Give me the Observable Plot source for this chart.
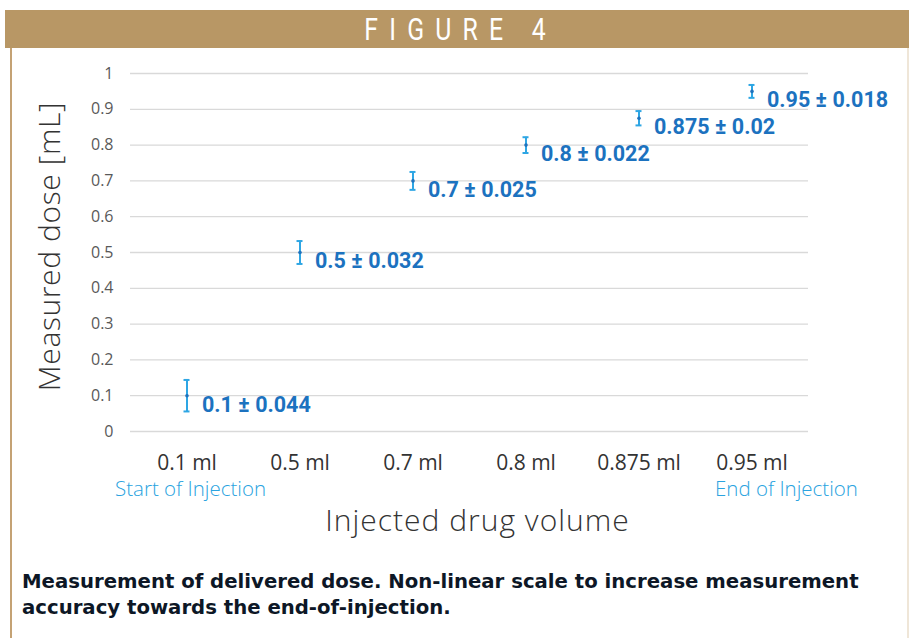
<!DOCTYPE html>
<html>
<head>
<meta charset="utf-8">
<script src="https://cdn.jsdelivr.net/npm/d3@7"></script>
<script src="https://cdn.jsdelivr.net/npm/@observablehq/plot@0.6"></script>
<style>
  html, body { margin: 0; padding: 0; background: #fff; width: 909px; height: 638px; overflow: hidden; }
  #header { position: absolute; left: 5px; top: 10px; width: 904px; height: 38px; background: #b89765; }
  #header span { position: absolute; left: 0; width: 904px; top: 0; text-align: center; line-height: 40px;
    color: #fff; font-family: "Roboto", "Open Sans", sans-serif; font-size: 31px; letter-spacing: 14px;
    transform: scaleX(0.8); transform-origin: 470px 0; }
  #lborder { position: absolute; left: 10px; top: 48px; width: 2px; height: 590px; background: #c4a274; }
  #rborder { position: absolute; left: 907px; top: 48px; width: 2px; height: 590px; background: #efe6d8; }
  #chart { position: absolute; left: 0; top: 50px; }
  #caption { position: absolute; left: 22px; top: 569px; width: 880px; font-family: "DejaVu Sans", "Lato", sans-serif;
    font-weight: bold; font-size: 19.7px; line-height: 26px; color: #0d1726; white-space: nowrap; }
</style>
</head>
<body>
<div id="header"><span>FIGURE 4</span></div>
<div id="lborder"></div>
<div id="rborder"></div>
<div id="chart"></div>
<div id="caption">Measurement of delivered dose. Non-linear scale to increase measurement<br>accuracy towards the end-of-injection.</div>
<script>
const categories = ["0.1 ml", "0.5 ml", "0.7 ml", "0.8 ml", "0.875 ml", "0.95 ml"];
const measured = [0.1, 0.5, 0.7, 0.8, 0.875, 0.95];
const errors = [0.044, 0.032, 0.025, 0.022, 0.02, 0.018];
const valueLabels = ["0.1 ± 0.044", "0.5 ± 0.032", "0.7 ± 0.025", "0.8 ± 0.022", "0.875 ± 0.02", "0.95 ± 0.018"];
const yTicks = [0, 0.1, 0.2, 0.3, 0.4, 0.5, 0.6, 0.7, 0.8, 0.9, 1];
const xTitle = "Injected drug volume";
const yTitle = "Measured dose [mL]";
const startNote = "Start of Injection";
const endNote = "End of Injection";

const data = categories.map((c, i) => ({
  cat: c, v: measured[i], lo: measured[i] - errors[i], hi: measured[i] + errors[i], label: valueLabels[i]
}));

const labelBlue = "#1c72bf";
const barBlue = "#2ea6e4";
const titleFont = "'Open Sans', 'Lato', sans-serif";

const chart = Plot.plot({
  width: 909,
  height: 500,
  marginLeft: 130,
  marginRight: 101,
  marginTop: 23,
  marginBottom: 119,
  style: { fontFamily: "'Open Sans', 'Liberation Sans', sans-serif", background: "transparent", overflow: "visible" },
  x: { domain: categories, padding: 0, label: null },
  y: { domain: [0, 1], label: null },
  marks: [
    Plot.gridY(yTicks, { stroke: "#d9d9d9", strokeOpacity: 1, strokeWidth: 1.3 }),
    Plot.axisY(yTicks, { tickSize: 0, tickPadding: 17, fontSize: 16, color: "#595959", label: null,
      tickFormat: d => String(+d.toFixed(1)) }),
    Plot.axisX({ tickSize: 0, tickPadding: 24, fontSize: 21, color: "#333", label: null }),
    Plot.text([startNote], { x: () => categories[0], y: () => 0, dx: -72, dy: 58, text: d => d,
      textAnchor: "start", fill: "#2aa3e0", fontSize: 20.5, fontFamily: titleFont, fontWeight: 300 }),
    Plot.text([endNote], { x: () => categories[5], y: () => 0, dx: -37, dy: 58, text: d => d,
      textAnchor: "start", fill: "#2aa3e0", fontSize: 20.5, fontFamily: titleFont, fontWeight: 300 }),
    Plot.text([xTitle], { frameAnchor: "bottom", text: d => d, dx: 8, dy: 99, fontSize: 30,
      fill: "#333", fontFamily: titleFont, fontWeight: 300, className: "xtitle" }),
    Plot.text([yTitle], { frameAnchor: "left", textAnchor: "middle", text: d => d, dx: -80, dy: -6, rotate: -90, fontSize: 30,
      fill: "#333", fontFamily: titleFont, fontWeight: 300, className: "ytitle" }),
    Plot.ruleX(data, { x: "cat", y1: "lo", y2: "hi", stroke: barBlue, strokeWidth: 2 }),
    Plot.tickY(data, { x: "cat", y: "lo", stroke: barBlue, strokeWidth: 2, insetLeft: 53.5, insetRight: 53.5 }),
    Plot.tickY(data, { x: "cat", y: "hi", stroke: barBlue, strokeWidth: 2, insetLeft: 53.5, insetRight: 53.5 }),
    Plot.dot(data, { x: "cat", y: "v", r: 1.8, fill: "#1f72bd", stroke: "none" }),
    Plot.text(data, { x: "cat", y: "v", text: "label", dx: 15, dy: 9, textAnchor: "start",
      fill: labelBlue, fontSize: 21.5, fontWeight: "bold", fontFamily: "'Roboto', 'Open Sans', sans-serif" })
  ]
});
chart.querySelectorAll(".xtitle text").forEach(t => t.setAttribute("letter-spacing", "1"));
chart.querySelectorAll(".ytitle text").forEach(t => t.setAttribute("letter-spacing", "0.6"));
document.getElementById("chart").appendChild(chart);
</script>
</body>
</html>
